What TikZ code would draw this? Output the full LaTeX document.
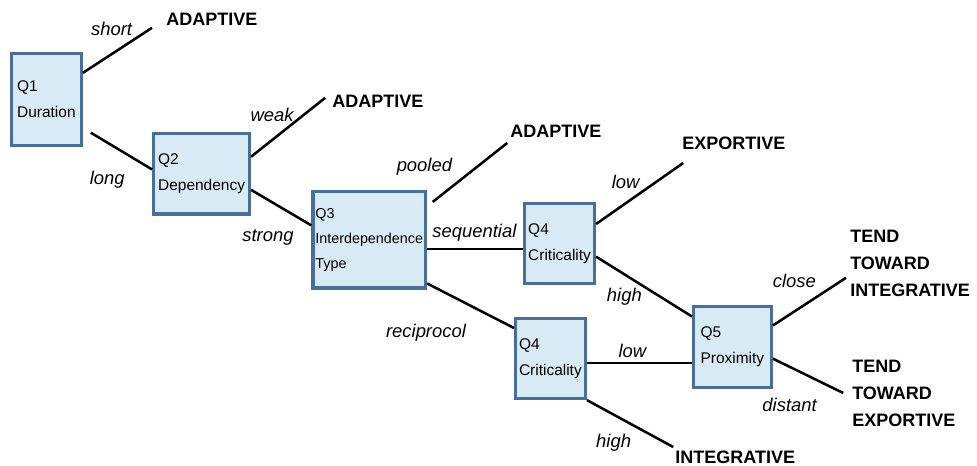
\documentclass[tikz,border=0pt]{standalone}
\usepackage{fontspec}
\setmainfont{Liberation Sans}
\definecolor{qfill}{RGB}{216,234,244}
\definecolor{qline}{RGB}{72,110,160}
\begin{document}
\begin{tikzpicture}[
  qbox/.style={draw=qline,fill=qfill,line width=2.4pt,align=left,inner sep=0pt,font=\fontsize{11}{18.5}\selectfont},
  outcome/.style={font=\fontsize{12.8}{19.2}\selectfont\bfseries,anchor=west,align=left,inner sep=0pt},
  answer/.style={font=\fontsize{13.1}{16}\selectfont\itshape,inner sep=0pt},
  branch/.style={line width=1.8pt}]
  \useasboundingbox (0,0) rectangle (24.425,11.625);

  \node[qbox,minimum width=1.74cm,minimum height=2.29cm] (q1) at (1.16,9.14) {Q1\\Duration};
  \node[qbox,minimum width=2.39cm,minimum height=2.01cm] (q2) at (5.04,7.28) {Q2\\Dependency};
  \node[qbox,minimum width=2.81cm,minimum height=2.41cm,font=\fontsize{10.2}{18}\selectfont] (q3) at (9.23,5.63) {Q3\\Interdependence\\Type};
  \node[qbox,minimum width=1.74cm,minimum height=1.99cm] (q4a) at (13.99,5.54) {Q4\\Criticality};
  \node[qbox,minimum width=1.74cm,minimum height=1.99cm] (q4b) at (13.76,2.66) {Q4\\Criticality};
  \node[qbox,minimum width=1.94cm,minimum height=2.01cm] (q5) at (18.31,2.95) {Q5\\Proximity};

  \node[outcome] (adaptA) at (4.15,11.14) {ADAPTIVE};
  \node[outcome] (adaptB) at (8.3,9.1) {ADAPTIVE};
  \node[outcome] (adaptC) at (12.75,8.33) {ADAPTIVE};
  \node[outcome] (export) at (17.05,8.05) {EXPORTIVE};
  \node[outcome] (tendInt) at (21.25,5.05) {TEND\\TOWARD\\INTEGRATIVE};
  \node[outcome] (tendExp) at (21.3,1.78) {TEND\\TOWARD\\EXPORTIVE};
  \node[outcome] (integ) at (16.88,0.2) {INTEGRATIVE};

  \coordinate (eShort) at (3.8,10.93);
  \coordinate (eWeak) at (8.13,9.18);
  \coordinate (ePooled) at (12.68,8.05);
  \coordinate (eLow) at (17.08,7.55);
  \coordinate (eClose) at (21.15,4.68);
  \coordinate (eDistant) at (21.08,1.8);
  \coordinate (eHigh) at (16.83,0.45);

  \draw[branch] (q1.36) -- (eShort);
  \draw[branch,shorten <=0.23cm] (q1.-38) -- (q2.175);
  \draw[branch] (q2.19) -- (eWeak);
  \draw[branch] (q2.-18) -- (q3.166);
  \draw[branch,shorten <=0.18cm] (q3.30) -- (ePooled);
  \draw[branch] (q3.-9) -- (q3.-9 -| q4a.west);
  \draw[branch] (q3.-37) -- (q4b.140);
  \draw[branch] (q4a.28) -- (eLow);
  \draw[branch] (q4a.-20) -- (q5.143);
  \draw[branch] (q4b.-7) -- (q4b.-7 -| q5.west);
  \draw[branch] (q4b.south east) -- (eHigh);
  \draw[branch] (q5.28) -- (eClose);
  \draw[branch] (q5.-16) -- (eDistant);

  \node[answer] (lShort) at (2.79,10.9) {short};
  \node[answer] (lLong) at (2.68,7.13) {long};
  \node[answer] (lWeak) at (6.8,8.75) {weak};
  \node[answer] (lStrong) at (6.7,5.7) {strong};
  \node[answer] (lPooled) at (10.61,7.45) {pooled};
  \node[answer] (lSeq) at (11.86,5.8) {sequential};
  \node[answer] (lRecip) at (10.65,3.3) {reciprocol};
  \node[answer] (lLowA) at (15.64,7.08) {low};
  \node[answer] (lHighA) at (15.61,4.2) {high};
  \node[answer] (lLowB) at (15.81,2.85) {low};
  \node[answer] (lHighB) at (15.34,0.55) {high};
  \node[answer] (lClose) at (19.86,4.6) {close};
  \node[answer] (lDistant) at (19.74,1.5) {distant};
\end{tikzpicture}
\end{document}
